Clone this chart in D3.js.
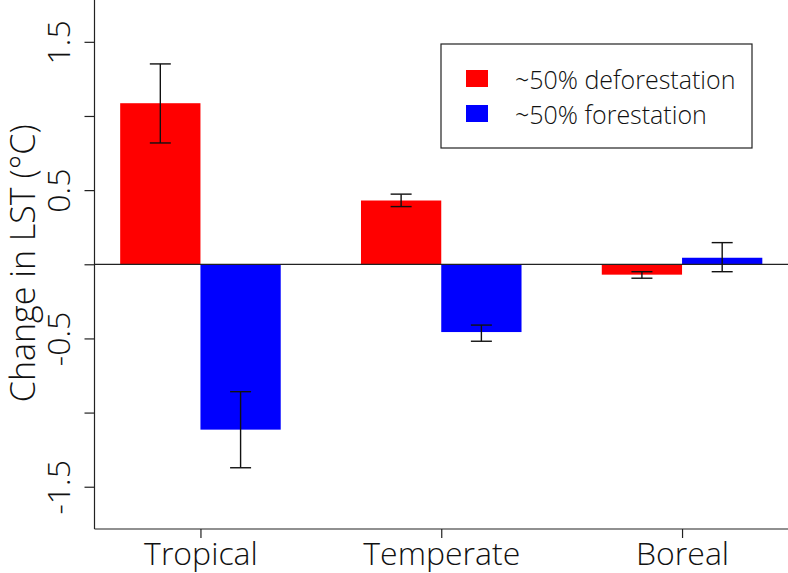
<!DOCTYPE html>
<html><head><meta charset="utf-8">
<script src="https://cdn.jsdelivr.net/npm/d3@7"></script>
<style>
html,body{margin:0;padding:0;background:#fff;}
svg{display:block;}
text{font-family:"Open Sans",sans-serif;fill:#111;}
</style></head>
<body>
<script>
const categories = ["Tropical", "Temperate", "Boreal"];
const seriesNames = ["~50% deforestation", "~50% forestation"];
const deforestation = [1.086, 0.430, -0.070];
const forestation = [-1.115, -0.457, 0.044];
const deforestLow = [0.818, 0.389, -0.094];
const deforestHigh = [1.351, 0.473, -0.050];
const forestLow = [-1.372, -0.519, -0.050];
const forestHigh = [-0.859, -0.410, 0.146];
const yTicks = [-1.5, -1, -0.5, 0, 0.5, 1, 1.5];
const yTickLabels = ["-1.5", "", "-0.5", "", "0.5", "", "1.5"];
const colors = ["#ff0000", "#0000ff"];

const W = 788, H = 573;
const svg = d3.select("body").append("svg").attr("width", W).attr("height", H);

// R barplot layout: bar width 1, group gap 1; usr = [0.68, 9.32]
const x = d3.scaleLinear().domain([0.68, 9.32]).range([94.5, 788]);
const y = d3.scaleLinear().domain([-1.785, 1.782]).range([529, 0]);

const series = [
  {vals: deforestation, lo: deforestLow, hi: deforestHigh},
  {vals: forestation, lo: forestLow, hi: forestHigh}
];

const rows = [];
categories.forEach((c, i) => {
  series.forEach((s, j) => {
    const u0 = 1 + 3 * i + j;
    rows.push({cat: c, j, u0, v: s.vals[i], lo: s.lo[i], hi: s.hi[i]});
  });
});

// bars
svg.append("g").selectAll("rect").data(rows).join("rect")
  .attr("x", d => x(d.u0))
  .attr("width", d => x(d.u0 + 1) - x(d.u0))
  .attr("y", d => y(Math.max(0, d.v)))
  .attr("height", d => Math.abs(y(d.v) - y(0)))
  .attr("fill", d => colors[d.j]);

// zero line
svg.append("line")
  .attr("x1", x(0.68)).attr("x2", 788)
  .attr("y1", y(0)).attr("y2", y(0))
  .attr("stroke", "#222").attr("stroke-width", 1.2);

// error bars
const eb = svg.append("g").attr("stroke", "#111").attr("stroke-width", 1.4);
rows.forEach(d => {
  const cx = x(d.u0 + 0.5);
  eb.append("line").attr("x1", cx).attr("x2", cx).attr("y1", y(d.lo)).attr("y2", y(d.hi));
  eb.append("line").attr("x1", cx - 10.5).attr("x2", cx + 10.5).attr("y1", y(d.lo)).attr("y2", y(d.lo));
  eb.append("line").attr("x1", cx - 10.5).attr("x2", cx + 10.5).attr("y1", y(d.hi)).attr("y2", y(d.hi));
});

// left axis
const yAxis = d3.axisLeft(y).tickValues(yTicks).tickSize(10).tickFormat((d, i) => yTickLabels[i]);
const gy = svg.append("g").attr("transform", `translate(${x(0.68)},0)`).call(yAxis);
gy.select(".domain").attr("d", `M0,0V${y(-1.785)}`).attr("stroke", "#222").attr("stroke-width", 1.2);
gy.selectAll(".tick line").attr("stroke", "#222").attr("stroke-width", 1.2);
gy.selectAll(".tick text")
  .attr("x", 0).attr("y", 0).attr("dy", null)
  .attr("transform", "translate(-24.5,0) rotate(-90)")
  .attr("text-anchor", "middle")
  .attr("font-size", 32).attr("font-weight", 300)
  .attr("font-family", "'Open Sans', sans-serif")
  .attr("fill", "#111");

// bottom axis
const groupCenters = categories.map((c, i) => 2 + 3 * i);
const xAxis = d3.axisBottom(x).tickValues(groupCenters).tickSize(9)
  .tickFormat((d, i) => categories[i]);
const gx = svg.append("g").attr("transform", `translate(0,529)`).call(xAxis);
gx.select(".domain").attr("d", `M${x(0.68)},0H788`).attr("stroke", "#222").attr("stroke-width", 1.2);
gx.selectAll(".tick line").attr("stroke", "#222").attr("stroke-width", 1.2);
gx.selectAll(".tick text")
  .attr("y", 36).attr("dy", null)
  .attr("font-size", 32).attr("font-weight", 300)
  .attr("font-family", "'Open Sans', sans-serif")
  .attr("fill", "#111");

// y title
svg.append("text")
  .attr("transform", `translate(35,${y(0) - 1}) rotate(-90)`)
  .attr("text-anchor", "middle")
  .attr("font-size", 34).attr("font-weight", 300)
  .text("Change in LST (°C)");

// legend
const lg = svg.append("g");
lg.append("rect").attr("x", 441).attr("y", 44).attr("width", 311).attr("height", 104)
  .attr("fill", "#fff").attr("stroke", "#222").attr("stroke-width", 1.2);
seriesNames.forEach((n, i) => {
  lg.append("rect").attr("x", 466).attr("y", 70 + 35 * i).attr("width", 22).attr("height", 17)
    .attr("fill", colors[i]);
  lg.append("text").attr("x", 515).attr("y", 89 + 35 * i)
    .attr("font-size", 25).attr("font-weight", 300)
    .text(n);
});
</script>
</body></html>
